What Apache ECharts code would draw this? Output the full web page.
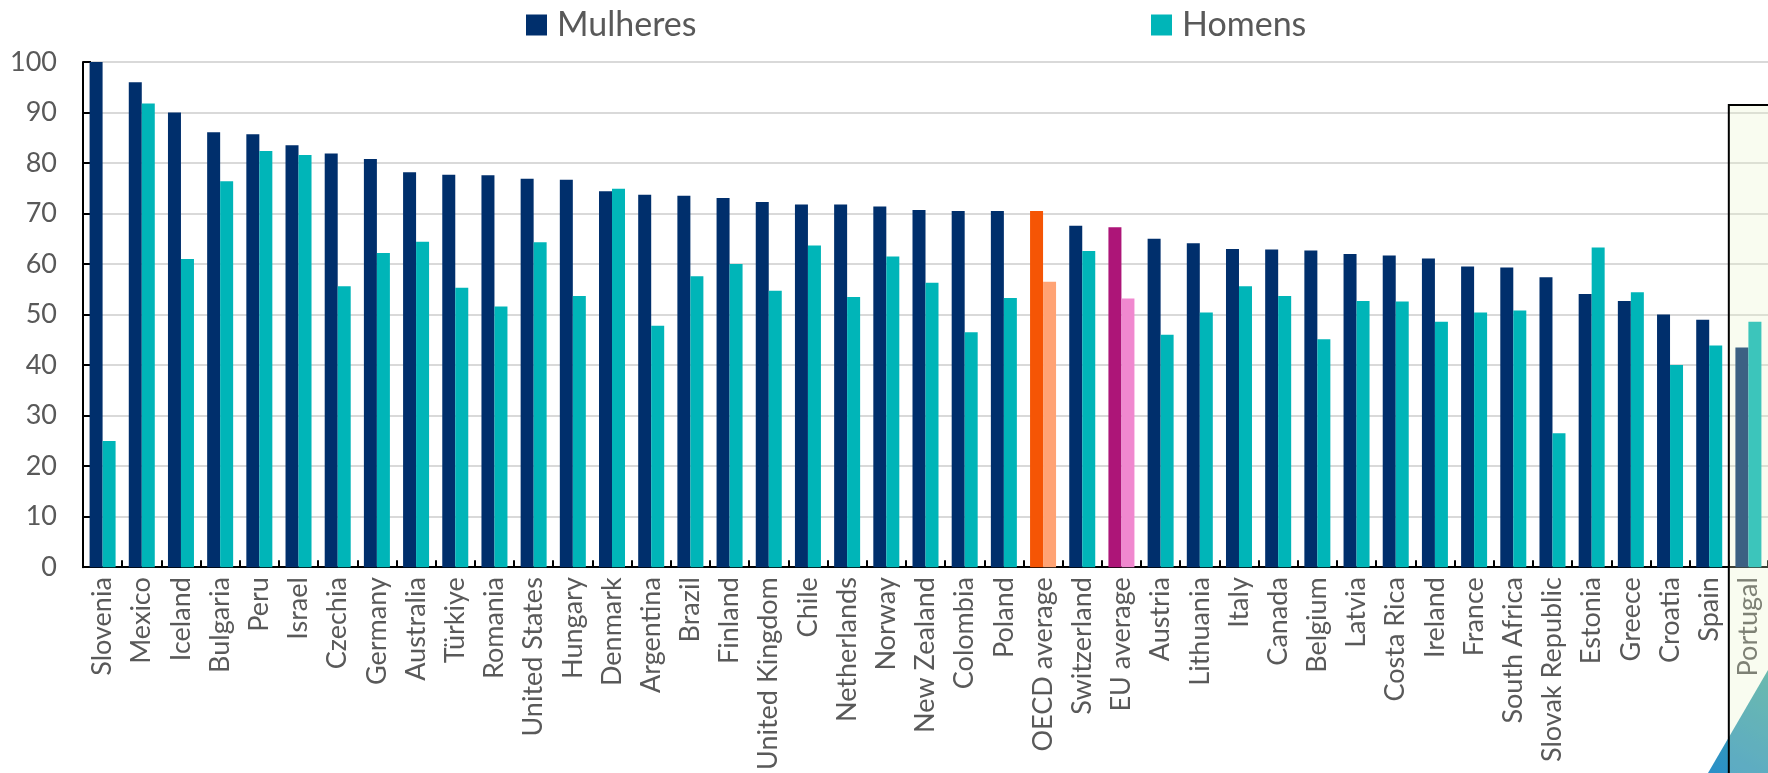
<!DOCTYPE html>
<html>
<head>
<meta charset="utf-8">
<script src="https://cdn.jsdelivr.net/npm/echarts@6/dist/echarts.min.js"></script>
<style>
html,body{margin:0;padding:0;background:#fff;}
#c{width:1768px;height:773px;}
</style>
</head>
<body>
<div id="c"></div>
<script>
const categories = ["Slovenia","Mexico","Iceland","Bulgaria","Peru","Israel","Czechia","Germany","Australia","Türkiye","Romania","United States","Hungary","Denmark","Argentina","Brazil","Finland","United Kingdom","Chile","Netherlands","Norway","New Zealand","Colombia","Poland","OECD average","Switzerland","EU average","Austria","Lithuania","Italy","Canada","Belgium","Latvia","Costa Rica","Ireland","France","South Africa","Slovak Republic","Estonia","Greece","Croatia","Spain","Portugal"];
const mulheres = [100,96.0,90.0,86.1,85.7,83.5,81.9,80.8,78.2,77.7,77.6,76.9,76.7,74.4,73.7,73.5,73.1,72.3,71.8,71.8,71.4,70.7,70.5,70.5,70.5,67.6,67.3,65.0,64.1,63.0,62.9,62.7,62.0,61.7,61.1,59.5,59.3,57.4,54.1,52.7,50.0,49.0,43.5];
const homens = [25.0,91.8,61.0,76.4,82.4,81.6,55.6,62.2,64.4,55.3,51.6,64.3,53.7,74.9,47.8,57.6,60.0,54.7,63.7,53.5,61.5,56.3,46.5,53.3,56.5,62.6,53.2,46.0,50.4,55.6,53.7,45.1,52.7,52.6,48.6,50.4,50.8,26.5,63.3,54.4,40.0,43.9,48.6];
const yTicks = [0,10,20,30,40,50,60,70,80,90,100];
const seriesNames = ["Mulheres","Homens"];
const highlightM = {"OECD average":"#F55505","EU average":"#AD1578"};
const highlightH = {"OECD average":"#FFA374","EU average":"#F088CF"};
const colM = "#002F6C", colH = "#00B5B8";
const boxCategory = "Portugal";
const boxTopValue = 91.5;

const FONT = "Lato";
const chart = echarts.init(document.getElementById('c'), null, {renderer:'canvas'});

function build(vals, hl) {
  return vals.map((v,i)=> hl[categories[i]] ? {value:v, itemStyle:{color:hl[categories[i]]}} : v);
}

function legendCfg(name, left) {
  return {data:[name], left:left, top:7, padding:0, itemWidth:21, itemHeight:21, itemGap:10, icon:'rect',
    textStyle:{color:'#595959', fontSize:34, fontFamily:FONT, lineHeight:36, padding:[0,0,0,5]}};
}

const option = {
  animation:false,
  backgroundColor:'#ffffff',
  textStyle:{fontFamily:FONT},
  legend:[legendCfg(seriesNames[0], 526), legendCfg(seriesNames[1], 1151)],
  grid:{left:83, right:0, top:62, bottom:202, containLabel:false},
  xAxis:{
    type:'category', data:categories, boundaryGap:true,
    axisLine:{lineStyle:{color:'#000', width:2}},
    axisTick:{show:true, inside:true, length:7, interval:0, lineStyle:{color:'#000', width:2}},
    axisLabel:{interval:0, rotate:90, margin:10, color:'#595959', fontSize:27, fontFamily:FONT},
    splitLine:{show:false}
  },
  yAxis:{
    type:'value', min:yTicks[0], max:yTicks[yTicks.length-1], interval:10,
    axisLine:{show:true, lineStyle:{color:'#000', width:2}},
    axisTick:{show:true, inside:true, length:8, lineStyle:{color:'#000', width:2}},
    axisLabel:{color:'#595959', fontSize:27, fontFamily:FONT, margin:26},
    splitLine:{show:true, lineStyle:{color:'#D9D9D9', width:2}}
  },
  series:[
    {name:seriesNames[0], type:'bar', data:build(mulheres, highlightM), barWidth:13, barGap:'0%', itemStyle:{color:colM}},
    {name:seriesNames[1], type:'bar', data:build(homens, highlightH), barWidth:13, barGap:'0%', itemStyle:{color:colH}}
  ]
};
chart.setOption(option);

const bandW = 1685/categories.length;
const cx = chart.convertToPixel({xAxisIndex:0}, boxCategory);
const boxLeft = cx - bandW/2;
const boxTop = chart.convertToPixel({yAxisIndex:0}, boxTopValue);
chart.setOption({
  graphic:[
    {type:'polygon', z:50, silent:true,
     shape:{points:[[1708,773],[1768,670],[1768,773]]},
     style:{fill:new echarts.graphic.LinearGradient(0,1,1,0,[{offset:0,color:'#2A8FC8'},{offset:1,color:'#3FA6A6'}])}},
    {type:'rect', z:100, silent:true,
     shape:{x:boxLeft, y:boxTop, width:1768-boxLeft+10, height:773-boxTop+10},
     style:{fill:'rgba(230,243,197,0.26)', stroke:'#000', lineWidth:2}}
  ]
});
</script>
</body>
</html>
